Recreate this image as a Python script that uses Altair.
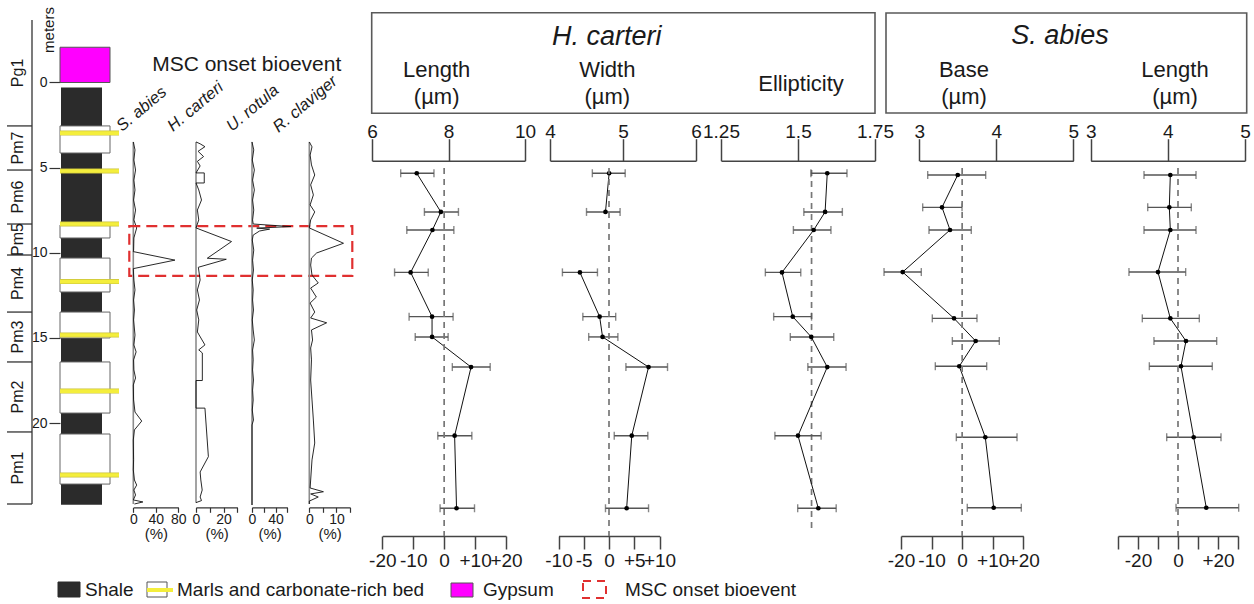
import altair as alt
import pandas as pd

FONT = "Liberation Sans"
INK = "#1a1a1a"
H = 604

# ---------------- lithology (depth in m) ----------------
gypsum_top = [-2.07]
gypsum_bottom = [0.0]
shale_top = [0.3]
shale_bottom = [24.8]
marl_top = [2.55, 8.37, 10.31, 13.48, 16.41, 20.64]
marl_bottom = [4.14, 9.13, 12.30, 15.00, 19.41, 23.58]
bed_depth = [2.97, 5.20, 8.31, 11.69, 14.83, 18.12, 23.05]
formation = ["Pg1", "Pm7", "Pm6", "Pm5", "Pm4", "Pm3", "Pm2", "Pm1"]
form_top = [-3.67, 2.55, 5.14, 8.31, 10.13, 13.48, 16.41, 20.52]
form_bottom = [2.55, 5.14, 8.31, 10.13, 13.48, 16.41, 20.52, 24.75]
depth_ticks = [0, 5, 10, 15, 20]

# ---------------- abundance curves (%) ----------------
sab_depth = [3.49, 3.96, 4.55, 5.14, 5.73, 6.31, 6.90, 7.49, 8.07, 8.54, 9.13, 9.84, 9.93,
             10.43, 10.93, 11.60, 12.18, 12.77, 13.36, 13.94, 14.83, 15.41, 15.82, 16.29,
             16.88, 17.35, 17.76, 18.64, 19.35, 19.88, 20.40, 20.99, 22.16, 22.75, 23.34,
             23.64, 23.93, 24.22, 24.51, 24.63, 24.75]
sab_pct = [0, 3, 1, 4, 1, 3, 0.5, 4, 1, 6, 1, 0.5, 0,
           74, 0, 1, 3, 0.5, 2, 0.5, 3, 1, 5, 0.5,
           1, 4, 0, 0.5, 3, 15, 2, 0, 0.5, 0, 2,
           6, 1, 4, 0, 17, 2]

hca_depth = [3.49, 3.60, 3.77, 4.04, 4.35, 4.63, 4.90, 5.31, 5.31, 5.90, 5.90, 6.31, 6.90,
             7.49, 8.07, 8.54, 9.34, 10.32, 10.38, 10.85, 11.60, 12.18, 12.77, 13.36, 13.94,
             14.65, 15.41, 15.70, 15.88, 17.50, 17.50, 19.12, 19.12, 21.97, 22.87, 23.34,
             23.93, 24.34, 24.55, 24.67]
hca_pct = [0, 3, 6.5, 1.5, 5.5, 1, 3, 0, 6, 6, 0, 2, 4,
           1, 2, 0, 25.8, 8.2, 22, 1.7, 3, 1, 2.5, 0.5, 2,
           1, 6.5, 2, 4.6, 4.6, 0, 0, 6.5, 9, 3, 3.5,
           4.5, 3, 4, 0]

uro_depth = [3.49, 3.96, 4.55, 5.14, 5.73, 6.31, 6.90, 7.49, 8.07, 8.31, 8.46, 8.55, 8.61,
             8.72, 8.96, 9.25, 9.84, 10.43, 11.01, 11.60, 12.18, 12.77, 13.36, 13.94, 14.53,
             15.12, 15.71, 16.29, 16.88, 17.47, 18.06, 18.64, 19.23, 19.82, 20.11, 24.81]
uro_pct = [0, 3, 0.5, 4, 1, 4, 1, 3, 1, 2, 66, 8, 30,
           12.8, 2, 0.5, 3, 1, 2.5, 0.5, 2, 1, 2.5, 0.5, 2,
           4, 1, 2, 1, 2.5, 1, 2, 0.5, 2.5, 0, 0]

rcl_depth = [3.49, 3.78, 4.26, 4.84, 5.43, 6.01, 6.60, 7.19, 7.60, 8.07, 8.54, 9.44, 10.01,
             10.31, 10.72, 11.31, 11.77, 12.07, 12.60, 12.95, 13.48, 13.83, 14.11, 14.53,
             15.12, 15.59, 16.29, 17.47, 18.64, 19.82, 21.17, 22.16, 23.34, 23.81, 24.03,
             24.16, 24.34, 24.58, 24.75]
rcl_pct = [0, 1, 0.3, 0.8, 2, 0.5, 1.5, 0.3, 2, 0.5, 0, 12.6, 2.7,
           0.8, 0.5, 1, 3.3, 0.5, 2.6, 0.3, 2, 0.5, 6.4, 0.8,
           1.2, 0.5, 0.8, 0.5, 1, 1.5, 2, 1, 0.5, 0.3, 5.2,
           0.5, 3.3, 0, 0]

msc_top = [8.43]
msc_bottom = [11.36]

# ---------------- morphometry ----------------
hc_depth = [5.33, 7.60, 8.66, 11.15, 13.75, 14.94, 16.71, 20.74, 25.0]
hc_len_mean = [7.17, 7.80, 7.58, 7.01, 7.57, 7.57, 8.59, 8.16, 8.21]
hc_len_lo = [6.75, 7.37, 6.91, 6.59, 6.97, 7.13, 8.10, 7.72, 7.78]
hc_len_hi = [7.62, 8.26, 8.14, 7.47, 8.12, 7.99, 9.09, 8.61, 8.68]
hc_wid_mean = [4.81, 4.76, None, 4.41, 4.68, 4.72, 5.35, 5.12, 5.05]
hc_wid_lo = [4.58, 4.50, None, 4.17, 4.45, 4.53, 5.04, 4.88, 4.76]
hc_wid_hi = [5.03, 4.96, None, 4.65, 4.90, 4.93, 5.61, 5.34, 5.35]
hc_ell_mean = [1.595, 1.588, 1.551, 1.448, 1.483, 1.543, 1.595, 1.500, 1.566]
hc_ell_lo = [1.542, 1.519, 1.485, 1.394, 1.421, 1.475, 1.532, 1.425, 1.499]
hc_ell_hi = [1.659, 1.644, 1.607, 1.509, 1.544, 1.616, 1.656, 1.575, 1.624]
hc_ell_ref = 1.544

sa_depth = [5.43, 7.33, 8.66, 11.13, 13.85, 15.18, 16.66, 20.83, 24.97]
sa_base_mean = [3.499, 3.295, 3.399, 2.784, 3.451, 3.732, 3.519, 3.857, 3.966]
sa_base_lo = [3.109, 3.044, 3.126, 2.542, 3.169, 3.429, 3.208, 3.481, 3.623]
sa_base_hi = [3.862, 3.555, 3.675, 3.026, 3.749, 4.039, 3.875, 4.269, 4.325]
sa_len_mean = [4.032, 4.019, 4.032, 3.872, 4.032, 4.235, 4.170, 4.335, 4.498]
sa_len_lo = [3.691, 3.739, 3.691, 3.496, 3.669, 3.820, 3.760, 3.985, 4.106]
sa_len_hi = [4.365, 4.304, 4.365, 4.231, 4.408, 4.633, 4.576, 4.689, 4.918]

# ---------------- helpers ----------------
one = pd.DataFrame({"k": [0]})
ysc = alt.Scale(domain=[-4.844, 30.622], reverse=True, nice=False, zero=False)


def txt(s, x, y, size=22, style="normal", angle=0, align="center", baseline="middle", color=INK):
    return alt.Chart(one).mark_text(text=s, fontSize=size, fontStyle=style, angle=angle,
                                    align=align, baseline=baseline, color=color).encode(
        x=alt.value(x), y=alt.value(y))


def box(x1, x2, y1, y2, stroke="#5a5a5a", sw=1.6, dash=None, fill="transparent"):
    kw = dict(fill=fill, stroke=stroke, strokeWidth=sw)
    if dash:
        kw["strokeDash"] = dash
    return alt.Chart(one).mark_rect(**kw).encode(
        x=alt.value(x1), x2=alt.value(x2), y=alt.value(y1), y2=alt.value(y2))


# ---------------- panel 0 : lithology ----------------
depth_axis = alt.Axis(orient="left", offset=-60, values=depth_ticks, tickSize=11, tickColor="#333",
                      tickWidth=1.2, domain=False, grid=False, labelFontSize=14, labelPadding=2,
                      labelColor=INK, title=None)


def YD(f):
    return alt.Y(f, type="quantitative", scale=ysc, axis=depth_axis)


shale_df = pd.DataFrame({"top": shale_top, "bottom": shale_bottom})
gyp_df = pd.DataFrame({"top": gypsum_top, "bottom": gypsum_bottom})
marl_df = pd.DataFrame({"top": marl_top, "bottom": marl_bottom})
bed_df = pd.DataFrame({"depth": bed_depth})
form_df = pd.DataFrame({"name": formation, "top": form_top, "bottom": form_bottom})

shale = alt.Chart(shale_df).mark_rect(color="#2b2b2b").encode(
    x=alt.value(61), x2=alt.value(102), y=YD("top"), y2="bottom")
gyp = alt.Chart(gyp_df).mark_rect(fill="#ff00ff", stroke="#555", strokeWidth=1).encode(
    x=alt.value(60), x2=alt.value(110), y=YD("top"), y2="bottom")
marl = alt.Chart(marl_df).mark_rect(fill="white", stroke="#666", strokeWidth=1).encode(
    x=alt.value(60), x2=alt.value(110), y=YD("top"), y2="bottom")
bed_edge = alt.Chart(bed_df).mark_rule(color="#c9c23e", strokeWidth=5).encode(
    x=alt.value(60), x2=alt.value(119), y=YD("depth"))
bed = alt.Chart(bed_df).mark_rule(color="#f4ee3c", strokeWidth=3.6).encode(
    x=alt.value(60), x2=alt.value(119), y=YD("depth"))
sep = alt.Chart(form_df).mark_rule(color="#333", strokeWidth=1.3).encode(
    x=alt.value(7), x2=alt.value(32), y=YD("bottom"))
bracket = alt.Chart(form_df).mark_rule(color="#333", strokeWidth=1.3).encode(
    x=alt.value(32), y=YD("min(top)"), y2="max(bottom)")
form_lab = alt.Chart(form_df).transform_calculate(mid="(datum.top + datum.bottom) / 2").mark_text(
    angle=270, fontSize=16, align="center", baseline="middle", color=INK).encode(
    x=alt.value(18), y=YD("mid:Q"), text="name:N")
meters = txt("meters", 49, 30, size=15, angle=270)

legend = [
    box(58, 80, 582, 597, stroke="#2b2b2b", sw=1, fill="#2b2b2b"),
    txt("Shale", 85, 590, size=19, align="left"),
    box(147, 167, 582, 597, stroke="#555", sw=1, fill="white"),
    alt.Chart(one).mark_rule(color="#f4ee3c", strokeWidth=4).encode(
        x=alt.value(147), x2=alt.value(173), y=alt.value(590)),
    txt("Marls and carbonate-rich bed", 177, 590, size=19, align="left"),
    box(451, 473, 583, 597, stroke="#555", sw=1, fill="#ff00ff"),
    txt("Gypsum", 483, 590, size=19, align="left"),
    box(583, 606, 581, 598, stroke="#e03030", sw=2, dash=[8, 6]),
    txt("MSC onset bioevent", 625, 590, size=19, align="left"),
]

p0 = alt.layer(shale, gyp, marl, bed_edge, bed, sep, bracket, form_lab, meters, *legend).properties(
    width=128, height=H)


# ---------------- abundance panels ----------------
def abundance_panel(depth, pct, dom, rng, ticks, shown, width, name, nx, ny, extra=()):
    df = pd.DataFrame({"i": list(range(len(depth))), "depth": depth, "pct": pct})
    xs = alt.Scale(domain=dom, range=rng, nice=False, zero=False)
    cond = " || ".join(f"datum.value == {v}" for v in shown)
    ax = alt.Axis(orient="bottom", offset=-96.7, values=ticks, labelExpr=f"({cond}) ? datum.label : ''",
                  tickSize=5, tickColor="#333", domainColor="#333", tickWidth=1.2, domainWidth=1.2,
                  labelFontSize=14, labelPadding=0, labelColor=INK, labelOverlap=False,
                  labelFlush=False, grid=False, title="(%)", titleFontSize=15,
                  titleFontWeight="normal", titlePadding=0, titleColor=INK)
    base = alt.Chart(df)
    baseline = base.transform_calculate(zero="0").mark_rule(color="#8c8c8c", strokeWidth=1.6).encode(
        x=alt.X("zero:Q", scale=xs, axis=ax),
        y=alt.Y("min(depth):Q", scale=ysc, axis=None), y2="max(depth):Q")
    curve = base.mark_line(color="#111", strokeWidth=0.9).encode(
        x=alt.X("pct:Q", scale=xs, axis=ax),
        y=alt.Y("depth:Q", scale=ysc, axis=None), order="i:Q")
    lab = txt(name, nx, ny, size=16.5, style="italic", angle=320, align="left", baseline="alphabetic")
    return alt.layer(baseline, curve, lab, *extra).properties(width=width, height=H)


msc_df = pd.DataFrame({"top": msc_top, "bottom": msc_bottom})
msc_box = alt.Chart(msc_df).mark_rect(fill="transparent", stroke="#e03030", strokeWidth=2.2,
                                      strokeDash=[11, 6]).encode(
    x=alt.value(1.3), x2=alt.value(224.3),
    y=alt.Y("top:Q", scale=ysc, axis=None), y2="bottom:Q")
msc_title = txt("MSC onset bioevent", 118.7, 65, size=21)

p1 = abundance_panel(sab_depth, sab_pct, [0, 80], [5.3, 50.3], [0, 40, 80], [0, 40, 80], 62,
                     "S. abies", -6, 132)
p1 = alt.layer(p1, msc_box, msc_title)
p2 = abundance_panel(hca_depth, hca_pct, [0, 30], [6, 47.3], [0, 10, 20, 30], [0, 20], 56,
                     "H. carteri", -17, 132)
p3 = abundance_panel(uro_depth, uro_pct, [0, 60], [6, 41.3], [0, 20, 40, 60], [0, 40], 56,
                     "U. rotula", -14, 132)
p4 = abundance_panel(rcl_depth, rcl_pct, [0, 15], [7.3, 48], [0, 5, 10, 15], [0, 10], 58,
                     "R. claviger", -23.5, 133)


# ---------------- morphometry panels ----------------
def morph_panel(depth, mean, lo, hi, vdom, vrng, vticks, width, pdom=None, prng=None, pticks=None,
                pshown=None, ref=None, extra=()):
    df = pd.DataFrame({"depth": depth, "mean": mean, "lo": lo, "hi": hi})
    vs = alt.Scale(domain=vdom, range=vrng, nice=False, zero=False)
    top_axis = alt.Axis(orient="top", offset=-160.7, values=vticks, labelExpr="'' + datum.value",
                        tickSize=22, labelFontSize=19, labelPadding=-3, labelColor=INK,
                        domainColor="#444", tickColor="#444", domainWidth=1.5, tickWidth=1.5,
                        grid=False, title=None, labelOverlap=False, labelFlush=False)
    Yd = alt.Y("depth:Q", scale=ysc, axis=None)

    def X(f):
        return alt.X(f, type="quantitative", scale=vs, axis=top_axis)

    base = alt.Chart(df)
    bars = base.mark_rule(color="#555", strokeWidth=1.4).encode(x=X("lo"), x2="hi", y=Yd)
    cap_lo = base.mark_tick(orient="vertical", size=8, thickness=1.4, color="#555").encode(x=X("lo"), y=Yd)
    cap_hi = base.mark_tick(orient="vertical", size=8, thickness=1.4, color="#555").encode(x=X("hi"), y=Yd)
    line = base.mark_line(color="#111", strokeWidth=1).encode(x=X("mean"), y=Yd, order="depth:Q")
    pts = base.mark_circle(color="black", size=22, opacity=1).encode(x=X("mean"), y=Yd)
    value_layers = [bars, cap_lo, cap_hi, line, pts]
    if ref is not None:
        ref_rule = alt.Chart(pd.DataFrame({"ref": [ref]})).mark_rule(
            color="#777", strokeDash=[6, 5], strokeWidth=1.7).encode(
            x=X("ref"), y=alt.value(170), y2=alt.value(533))
        value_layers.insert(0, ref_rule)
    value = alt.layer(*value_layers)
    if pdom is None:
        return alt.layer(value, *extra).properties(width=width, height=H)
    ps = alt.Scale(domain=pdom, range=prng, nice=False, zero=False)
    signed = "(datum.value > 0 ? '+' + datum.value : '' + datum.value)"
    if pshown is None:
        lexpr = signed
    else:
        cond = " || ".join(f"datum.value == {v}" for v in pshown)
        lexpr = f"({cond}) ? {signed} : ''"
    bottom_axis = alt.Axis(orient="bottom", offset=-68, values=pticks, labelExpr=lexpr, tickSize=13,
                           labelFontSize=19, labelPadding=2, labelColor=INK, domainColor="#444",
                           tickColor="#444", domainWidth=1.5, tickWidth=1.5, grid=False, title=None,
                           labelOverlap=False, labelFlush=False)
    dashed = alt.Chart(one).transform_calculate(zero="0").mark_rule(
        color="#777", strokeDash=[6, 5], strokeWidth=1.7).encode(
        x=alt.X("zero:Q", scale=ps, axis=bottom_axis), y=alt.value(168), y2=alt.value(536))
    return alt.layer(value, dashed, *extra).resolve_scale(x="independent").properties(
        width=width, height=H)


p5 = morph_panel(hc_depth, hc_len_mean, hc_len_lo, hc_len_hi, [6, 10], [12, 165], [6, 8, 10], 177,
                 pdom=[-20, 20], prng=[22.3, 146], pticks=[-20, -10, 0, 10, 20],
                 extra=(box(11.7, 515, 12.7, 113.3),
                        txt("H. carteri", 246.7, 37, size=27, style="italic"),
                        txt("Length", 76.7, 70), txt("(µm)", 76.7, 97)))
p6 = morph_panel(hc_depth, hc_wid_mean, hc_wid_lo, hc_wid_hi, [4, 6], [13, 159], [4, 5, 6], 171,
                 pdom=[-10, 10], prng=[21.5, 122.5], pticks=[-10, -5, 0, 5, 10],
                 extra=(txt("Width", 70.3, 70), txt("(µm)", 70.3, 97)))
p7 = morph_panel(hc_depth, hc_ell_mean, hc_ell_lo, hc_ell_hi, [1.25, 1.75], [13, 167],
                 [1.25, 1.5, 1.75], 189, ref=hc_ell_ref,
                 extra=(txt("Ellipticity", 93, 84),))
p8 = morph_panel(sa_depth, sa_base_mean, sa_base_lo, sa_base_hi, [3, 5], [22.3, 176.3], [3, 4, 5], 185,
                 pdom=[-20, 20], prng=[4, 126.3], pticks=[-20, -10, 0, 10, 20],
                 extra=(box(-11, 349.7, 13, 113),
                        txt("S. abies", 163, 36, size=27, style="italic"),
                        txt("Base", 67, 70), txt("(µm)", 67, 97)))
p9 = morph_panel(sa_depth, sa_len_mean, sa_len_lo, sa_len_hi, [3, 5], [8.7, 163], [3, 4, 5], 172,
                 pdom=[-30, 30], prng=[36, 156], pticks=[-30, -20, -10, 0, 10, 20, 30],
                 pshown=[-20, 0, 20],
                 extra=(txt("Length", 93, 70), txt("(µm)", 93, 97)))

chart = alt.hconcat(p0, p1, p2, p3, p4, p5, p6, p7, p8, p9, spacing=0, bounds="flush").properties(
    padding=0).configure(font=FONT).configure_view(strokeWidth=0)

chart.save("out.html", embed_options={"renderer": "svg", "actions": False})
